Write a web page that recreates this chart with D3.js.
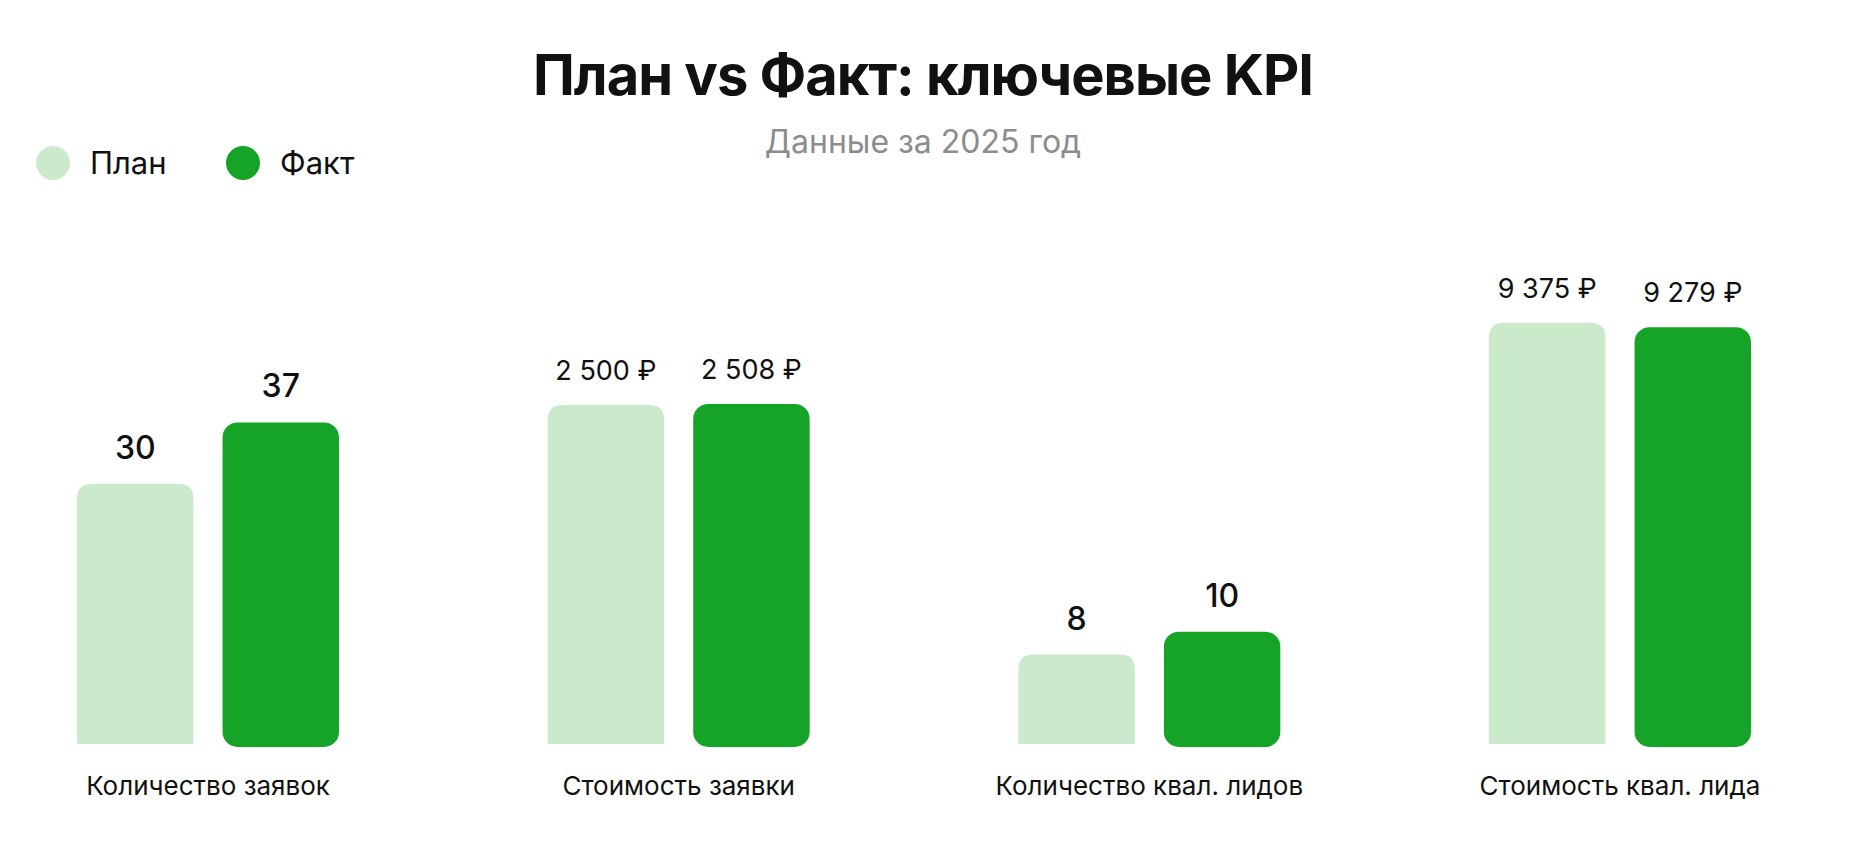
<!DOCTYPE html>
<html>
<head>
<meta charset="utf-8">
<script src="https://cdn.jsdelivr.net/npm/d3@7"></script>
<style>
  html, body { margin: 0; padding: 0; background: #fff; }
  svg { display: block; font-family: Inter, "Noto Sans", sans-serif; }
</style>
</head>
<body>
<div id="chart"></div>
<script>
// data
var categories = ["Количество заявок", "Стоимость заявки", "Количество квал. лидов", "Стоимость квал. лида"];
var series = ["План", "Факт"];
var planValues = [30, 2500, 8, 9375];
var factValues = [37, 2508, 10, 9279];
var units = ["", "₽", "", "₽"];
// every KPI has its own value scale (domain max)
var scaleMax = [51, 3270, 39, 9880];

var width = 1864;
var height = 844;
var baseline = 746;
var plotTop = 300;

var colors = { "План": "#cbeacb", "Факт": "#15a428" };

var ru = d3.formatLocale({ decimal: ",", thousands: "\u00a0", grouping: [3], currency: ["", " ₽"] });
var fmtMoney = ru.format("$,.0f");
var fmtNum = ru.format(",.0f");

var svg = d3.select("#chart")
    .append("svg")
    .attr("width", width)
    .attr("height", height);

svg.append("rect").attr("width", width).attr("height", height).attr("fill", "#fff");

// title + subtitle
svg.append("text")
    .attr("x", 923)
    .attr("y", 95)
    .attr("text-anchor", "middle")
    .attr("font-size", 56)
    .attr("font-weight", 700)
    .attr("letter-spacing", -1)
    .attr("fill", "#111")
    .text("План vs Факт: ключевые KPI");

svg.append("text")
    .attr("x", 923)
    .attr("y", 153)
    .attr("text-anchor", "middle")
    .attr("font-size", 32)
    .attr("fill", "#8c8c8c")
    .text("Данные за 2025 год");

// legend
var legend = svg.append("g").attr("transform", "translate(53,163)");
var legendItem = legend.selectAll("g")
    .data(series)
    .enter()
    .append("g")
    .attr("transform", function(d, i) { return "translate(" + (i * 190) + ",0)"; });

legendItem.append("circle")
    .attr("r", 17)
    .attr("fill", function(d) { return colors[d]; });

legendItem.append("text")
    .attr("x", 37)
    .attr("y", 11)
    .attr("font-size", 31)
    .attr("fill", "#111")
    .text(function(d) { return d; });

// scales
var x0 = d3.scalePoint()
    .domain(categories)
    .range([208, 1620]);

var x1 = d3.scaleBand()
    .domain(series)
    .range([-131, 131])
    .paddingInner(0.2);

var yScales = scaleMax.map(function(m) {
    return d3.scaleLinear().domain([0, m]).range([baseline, plotTop]);
});

var rows = categories.map(function(c, i) {
    return {
        category: c,
        index: i,
        bars: [
            { key: "План", value: planValues[i], index: i },
            { key: "Факт", value: factValues[i], index: i }
        ]
    };
});

// bar with only top corners rounded
function topRounded(x, y, w, h, r) {
    return "M" + x + "," + (y + h) +
        "V" + (y + r) +
        "Q" + x + "," + y + " " + (x + r) + "," + y +
        "H" + (x + w - r) +
        "Q" + (x + w) + "," + y + " " + (x + w) + "," + (y + r) +
        "V" + (y + h) + "Z";
}

var group = svg.append("g")
    .selectAll("g")
    .data(rows)
    .enter()
    .append("g")
    .attr("transform", function(d) { return "translate(" + x0(d.category) + ",0)"; });

group.each(function(row) {
    var g = d3.select(this);
    var y = yScales[row.index];

    g.selectAll("path.plan")
        .data(row.bars.filter(function(b) { return b.key === "План"; }))
        .enter()
        .append("path")
        .attr("class", "plan")
        .attr("fill", colors["План"])
        .attr("d", function(b) {
            return topRounded(x1(b.key), y(b.value), x1.bandwidth(), baseline - 2 - y(b.value), 15);
        });

    g.selectAll("rect.fact")
        .data(row.bars.filter(function(b) { return b.key === "Факт"; }))
        .enter()
        .append("rect")
        .attr("class", "fact")
        .attr("fill", colors["Факт"])
        .attr("x", function(b) { return x1(b.key); })
        .attr("y", function(b) { return y(b.value); })
        .attr("width", x1.bandwidth())
        .attr("height", function(b) { return baseline + 1 - y(b.value); })
        .attr("rx", 15);

    g.selectAll("text.value")
        .data(row.bars)
        .enter()
        .append("text")
        .attr("class", "value")
        .attr("x", function(b) { return x1(b.key) + x1.bandwidth() / 2; })
        .attr("y", function(b) { return y(b.value) - 25; })
        .attr("text-anchor", "middle")
        .attr("font-size", units[row.index] ? 27 : 32)
        .attr("font-weight", units[row.index] ? 400 : 500)
        .attr("fill", "#111")
        .text(function(b) { return units[row.index] ? fmtMoney(b.value) : fmtNum(b.value); });
});

group.append("text")
    .attr("y", 795)
    .attr("text-anchor", "middle")
    .attr("font-size", 26)
    .attr("fill", "#111")
    .text(function(d) { return d.category; });
</script>
</body>
</html>
